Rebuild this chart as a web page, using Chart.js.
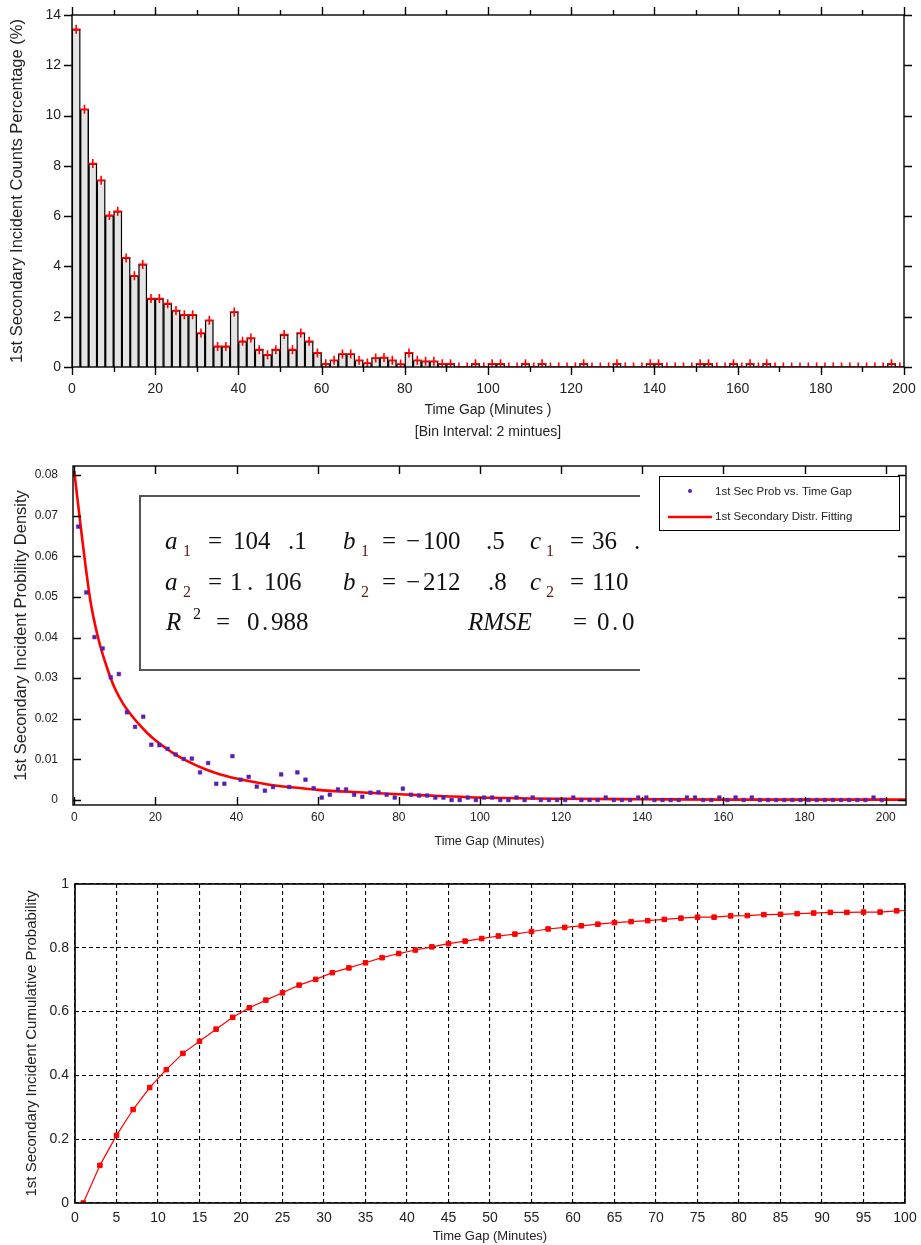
<!DOCTYPE html>
<html>
<head>
<meta charset="utf-8">
<script src="https://cdn.jsdelivr.net/npm/chart.js@4.4.1/dist/chart.umd.min.js"></script>
<style>
html,body{margin:0;padding:0;background:#fff;}
body{width:921px;height:1245px;position:relative;overflow:hidden;}
.c{position:absolute;left:0;width:921px;}
</style>
</head>
<body>
<div class="c" style="top:0;height:450px"><canvas id="c1"></canvas></div>
<div class="c" style="top:455px;height:405px"><canvas id="c2"></canvas></div>
<div class="c" style="top:862px;height:383px"><canvas id="c3"></canvas></div>
<script>
// ===================== DATA =====================
// Histogram: bin centres (minutes) of 2-minute bins, 0..200
const binCenters = [1,3,5,7,9,11,13,15,17,19,21,23,25,27,29,31,33,35,37,39,
  41,43,45,47,49,51,53,55,57,59,61,63,65,67,69,71,73,75,77,79,
  81,83,85,87,89,91,93,95,97,99,101,103,105,107,109,111,113,115,117,119,
  121,123,125,127,129,131,133,135,137,139,141,143,145,147,149,151,153,155,157,159,
  161,163,165,167,169,171,173,175,177,179,181,183,185,187,189,191,193,195,197,199];
// 1st secondary incident counts percentage (%) per bin
const histPct = [13.43,10.25,8.09,7.43,6.03,6.19,4.34,3.63,4.08,2.72,
  2.72,2.52,2.25,2.08,2.08,1.35,1.86,0.82,0.82,2.19,
  1.02,1.15,0.69,0.49,0.69,1.29,0.69,1.35,1.02,0.56,
  0.13,0.27,0.52,0.52,0.27,0.16,0.36,0.38,0.27,0.12,
  0.56,0.27,0.23,0.23,0.13,0.13,0,0,0.13,0,
  0.13,0.13,0,0,0.13,0,0.13,0,0,0,
  0,0.13,0,0,0,0.13,0,0,0,0.13,
  0.13,0,0,0,0,0.13,0.13,0,0,0.13,
  0,0.13,0,0.13,0,0,0,0,0,0,
  0,0,0,0,0,0,0,0,0.13,0];
const histXTicks = [0,10,20,30,40,50,60,70,80,90,100,110,120,130,140,150,160,170,180,190,200];
const histXLabels = ['0','','20','','40','','60','','80','','100','','120','','140','','160','','180','','200'];
const histYTicks = [0,2,4,6,8,10,12,14];

// Probability density (scatter) per bin centre
const densY = [0.0673,0.0511,0.0401,0.0373,0.0302,0.0310,0.0216,0.0180,0.0205,0.0136,
  0.0135,0.0126,0.0112,0.0101,0.0102,0.0068,0.0091,0.0040,0.0040,0.0108,
  0.0050,0.0057,0.0033,0.0023,0.0032,0.0063,0.0032,0.0068,0.0050,0.0029,
  0.0006,0.0013,0.0026,0.0026,0.0013,0.0008,0.0018,0.0019,0.0013,0.0006,
  0.0028,0.0013,0.0011,0.0011,0.0006,0.0006,0,0,0.0006,0,
  0.0006,0.0006,0,0,0.0006,0,0.0006,0,0,0,
  0,0.0006,0,0,0,0.0006,0,0,0,0.0006,
  0.0006,0,0,0,0,0.0006,0.0006,0,0,0.0006,
  0,0.0006,0,0.0006,0,0,0,0,0,0,
  0,0,0,0,0,0,0,0,0.0006,0];
// Fitted distribution curve
const fitX = [0,2,4,6,8,10,12,14,16,18,20,24,28,32,36,40,45,50,55,60,70,80,90,100,120,140,160,180,205];
const fitY = [0.081,0.064,0.049,0.0395,0.0328,0.0275,0.0238,0.0210,0.0186,0.0165,0.0147,0.0118,0.0095,0.0077,0.0063,0.0053,0.0043,0.0035,0.0030,0.0025,0.0019,0.0014,0.0010,0.0006,0.0003,0.0002,0.0001,0.0001,0.0001];
const densXTicks = [0,20,40,60,80,100,120,140,160,180,200];
const densYTicks = [0,0.01,0.02,0.03,0.04,0.05,0.06,0.07,0.08];
const densYLabels = ['0','0.01','0.02','0.03','0.04','0.05','0.06','0.07','0.08'];
const densLabels = ['1st Sec Prob vs. Time Gap','1st Secondary Distr. Fitting'];

// Cumulative probability
const cumX = [1,3,5,7,9,11,13,15,17,19,21,23,25,27,29,31,33,35,37,39,
  41,43,45,47,49,51,53,55,57,59,61,63,65,67,69,71,73,75,77,79,
  81,83,85,87,89,91,93,95,97,99,101];
const cumY = [0,0.118,0.212,0.293,0.362,0.418,0.469,0.507,0.545,0.582,
  0.612,0.636,0.659,0.683,0.701,0.722,0.737,0.753,0.769,0.782,
  0.793,0.803,0.813,0.821,0.829,0.837,0.843,0.851,0.859,0.864,
  0.869,0.874,0.879,0.882,0.885,0.889,0.893,0.896,0.896,0.900,
  0.901,0.904,0.905,0.907,0.909,0.911,0.911,0.912,0.912,0.916,0.918];
const cumXTicks = [0,5,10,15,20,25,30,35,40,45,50,55,60,65,70,75,80,85,90,95,100];
const cumYTicks = [0,0.2,0.4,0.6,0.8,1];
const cumYLabels = ['0','0.2','0.4','0.6','0.8','1'];

// ===================== HELPERS =====================
const SANS = "'Liberation Sans', Arial, sans-serif";
const SERIF = "'Liberation Serif', 'Times New Roman', serif";
const TXT = '#222';

const framePlugin = {
  id: 'frame',
  afterDatasetsDraw(chart, args, o) {
    const {ctx, chartArea: a} = chart;
    const x = chart.scales.x, y = chart.scales.y;
    ctx.save();
    ctx.strokeStyle = '#000';
    ctx.lineWidth = o.width || 1.3;
    ctx.setLineDash([]);
    ctx.strokeRect(a.left, a.top, a.right - a.left, a.bottom - a.top);
    const d = o.inward ? 1 : -1;
    ctx.beginPath();
    (o.xTicks || []).forEach((v, i) => {
      const px = Math.round(x.getPixelForValue(v)) + 0.5;
      const L = (o.xMajor && !o.xMajor[i]) ? o.minorLen : o.len;
      ctx.moveTo(px, a.bottom); ctx.lineTo(px, a.bottom - d * L);
      ctx.moveTo(px, a.top); ctx.lineTo(px, a.top + d * L);
    });
    (o.yTicks || []).forEach(v => {
      const py = Math.round(y.getPixelForValue(v)) + 0.5;
      ctx.moveTo(a.left, py); ctx.lineTo(a.left + d * o.len, py);
      ctx.moveTo(a.right, py); ctx.lineTo(a.right - d * o.len, py);
    });
    ctx.stroke();
    ctx.restore();
  }
};

function setTicks(values) {
  return (scale) => { scale.ticks = values.map(v => ({value: v})); };
}
function fixX(h) {
  return (s) => { s.height = h; s.paddingLeft = 0; s.paddingRight = 0; };
}
function fixY(w) {
  return (s) => { s.width = w; s.paddingTop = 0; s.paddingBottom = 0; };
}

// ===================== CHART 1: HISTOGRAM =====================
new Chart(document.getElementById('c1'), {
  type: 'bar',
  data: {
    datasets: [
      {
        type: 'line', label: 'Percentage marker',
        data: binCenters.map((x, i) => ({x: x, y: histPct[i]})),
        showLine: false, pointStyle: 'cross', pointRadius: 4.5,
        pointBorderColor: '#ff0000', pointBorderWidth: 1.6, borderColor: '#ff0000',
        order: 0
      },
      {
        type: 'bar', label: 'Counts Percentage',
        data: binCenters.map((x, i) => ({x: x, y: histPct[i]})),
        backgroundColor: '#e4e4e4', borderColor: '#000', borderWidth: 1.4,
        barPercentage: 1, categoryPercentage: 1, order: 1
      }
    ]
  },
  options: {
    responsive: true, maintainAspectRatio: false, animation: false,
    layout: {padding: {top: 15, right: 17, left: 0, bottom: 0}},
    plugins: {
      legend: {display: false}, tooltip: {enabled: false},
      frame: {inward: false, len: 8, minorLen: 5, width: 1.4,
        xTicks: histXTicks, xMajor: histXLabels.map(s => s !== ''), yTicks: histYTicks}
    },
    scales: {
      x: {
        type: 'linear', min: 0, max: 200, offset: false,
        grid: {display: false, drawTicks: false}, border: {display: false},
        afterBuildTicks: setTicks(histXTicks),
        afterFit: fixX(83),
        ticks: {autoSkip: false, maxRotation: 0, padding: 14, color: TXT,
          font: {family: SANS, size: 14},
          callback: (v, i) => histXLabels[i]},
        title: {display: true, text: ['Time Gap (Minutes )', '[Bin Interval: 2 mintues]'],
          color: TXT, font: {family: SANS, size: 14, lineHeight: 1.55}, padding: {top: 0, bottom: 7}}
      },
      y: {
        min: 0, max: 14,
        grid: {display: false, drawTicks: false}, border: {display: false},
        afterBuildTicks: setTicks(histYTicks),
        afterFit: fixY(72),
        ticks: {padding: 11, color: TXT, font: {family: SANS, size: 14}},
        title: {display: true, text: '1st Secondary Incident Counts Percentage (%)',
          color: TXT, font: {family: SANS, size: 16.5}, padding: {top: 8, bottom: 0}}
      }
    }
  },
  plugins: [framePlugin]
});

// ===================== CHART 2: DENSITY + FIT =====================
const annotPlugin = {
  id: 'annot',
  afterDraw(chart) {
    const ctx = chart.ctx;
    ctx.save();
    // parameter box (open on the right, clipped)
    ctx.strokeStyle = '#555';
    ctx.lineWidth = 2;
    ctx.beginPath();
    ctx.moveTo(640, 41); ctx.lineTo(140, 41); ctx.lineTo(140, 215); ctx.lineTo(640, 215);
    ctx.stroke();
    ctx.beginPath(); ctx.rect(0, 0, 641, 405); ctx.clip();
    ctx.textBaseline = 'alphabetic';
    ctx.textAlign = 'left';
    const up = '25px ' + SERIF;
    const it = 'italic 25px ' + SERIF;
    const sub = '16px ' + SERIF;
    const SUBC = '#5a1a1a';
    const put = (t, x, y, f, col) => { ctx.font = f; ctx.fillStyle = col || '#111'; ctx.fillText(t, x, y); };
    const r1 = 94, r2 = 135, r3 = 175;
    // row 1
    put('a', 165, r1, it); put('1', 183, r1 + 7, sub, SUBC);
    put('=', 208, r1, up); put('104', 233, r1, up); put('.1', 288, r1, up);
    put('b', 343, r1, it); put('1', 361, r1 + 7, sub, SUBC);
    put('=', 382, r1, up); put('\u2212', 406, r1, up); put('100', 423, r1, up); put('.5', 486, r1, up);
    put('c', 530, r1, it); put('1', 546, r1 + 7, sub, SUBC);
    put('=', 570, r1, up); put('36', 592, r1, up); put('.', 634, r1, up);
    // row 2
    put('a', 165, r2, it); put('2', 183, r2 + 7, sub, SUBC);
    put('=', 208, r2, up); put('1', 230, r2, up); put('.', 247, r2, up); put('106', 264, r2, up);
    put('b', 343, r2, it); put('2', 361, r2 + 7, sub, SUBC);
    put('=', 382, r2, up); put('\u2212', 406, r2, up); put('212', 423, r2, up); put('.8', 488, r2, up);
    put('c', 530, r2, it); put('2', 546, r2 + 7, sub, SUBC);
    put('=', 570, r2, up); put('110', 592, r2, up);
    // row 3
    put('R', 166, r3, it); put('2', 193, r3 - 11, sub);
    put('=', 216, r3, up); put('0', 247, r3, up); put('.', 262, r3, up); put('988', 271, r3, up);
    put('RMSE', 468, r3, it);
    put('=', 573, r3, up); put('0', 597, r3, up); put('.', 612, r3, up); put('0', 622, r3, up);
    ctx.restore();

    // legend
    ctx.save();
    ctx.fillStyle = '#fff';
    ctx.fillRect(659, 21, 240, 54);
    ctx.strokeStyle = '#000'; ctx.lineWidth = 1;
    ctx.strokeRect(659.5, 21.5, 240, 54);
    const ds = chart.data.datasets;
    ctx.font = '11.5px ' + SANS;
    ctx.fillStyle = TXT; ctx.textBaseline = 'middle'; ctx.textAlign = 'left';
    ctx.fillText(ds[0].label, 715, 37);
    ctx.fillText(ds[1].label, 715, 62);
    ctx.fillStyle = ds[0].backgroundColor;
    ctx.beginPath(); ctx.arc(690, 36, 2, 0, Math.PI * 2); ctx.fill();
    ctx.strokeStyle = ds[1].borderColor; ctx.lineWidth = 2.5;
    ctx.beginPath(); ctx.moveTo(668, 62); ctx.lineTo(712, 62); ctx.stroke();
    ctx.restore();
  }
};

new Chart(document.getElementById('c2'), {
  type: 'scatter',
  data: {
    datasets: [
      {
        label: densLabels[0],
        data: binCenters.map((x, i) => ({x: x, y: densY[i]})),
        pointStyle: 'rect', pointRadius: 2.6,
        backgroundColor: '#5a1fae', borderColor: '#5a1fae', borderWidth: 0.5,
        order: 0
      },
      {
        type: 'line', label: densLabels[1],
        data: fitX.map((x, i) => ({x: x, y: fitY[i]})),
        borderColor: '#ff0000', borderWidth: 2.6, pointRadius: 0,
        cubicInterpolationMode: 'monotone', fill: false, showLine: true,
        order: 1
      }
    ]
  },
  options: {
    responsive: true, maintainAspectRatio: false, animation: false,
    layout: {padding: {top: 11, right: 15, left: 0, bottom: 0}},
    plugins: {
      legend: {display: false}, tooltip: {enabled: false},
      frame: {inward: true, len: 8, width: 1.4, xTicks: densXTicks, yTicks: densYTicks}
    },
    scales: {
      x: {
        type: 'linear', min: -0.3, max: 205,
        grid: {display: false, drawTicks: false}, border: {display: false},
        afterBuildTicks: setTicks(densXTicks),
        afterFit: fixX(55),
        ticks: {autoSkip: false, maxRotation: 0, padding: 5, color: TXT,
          font: {family: SANS, size: 12}},
        title: {display: true, text: 'Time Gap (Minutes)', color: TXT,
          font: {family: SANS, size: 12.5}, padding: {top: 0, bottom: 11}}
      },
      y: {
        min: -0.00123, max: 0.08222,
        grid: {display: false, drawTicks: false}, border: {display: false},
        afterBuildTicks: setTicks(densYTicks),
        afterFit: fixY(73),
        ticks: {padding: 15, color: TXT, font: {family: SANS, size: 12},
          callback: (v, i) => densYLabels[i]},
        title: {display: true, text: '1st Secondary Incident Probility Density', color: TXT,
          font: {family: SANS, size: 16.5}, padding: {top: 12, bottom: 0}}
      }
    }
  },
  plugins: [framePlugin, annotPlugin]
});

// ===================== CHART 3: CUMULATIVE =====================
new Chart(document.getElementById('c3'), {
  type: 'line',
  data: {
    datasets: [{
      label: 'Cumulative Probability',
      data: cumX.map((x, i) => ({x: x, y: cumY[i]})),
      borderColor: '#ff0000', borderWidth: 1.2,
      pointStyle: 'rect', pointRadius: 3.2,
      pointBackgroundColor: '#ff0000', pointBorderColor: '#ff0000', pointBorderWidth: 1,
      tension: 0, fill: false
    }]
  },
  options: {
    responsive: true, maintainAspectRatio: false, animation: false,
    layout: {padding: {top: 22, right: 16, left: 0, bottom: 0}},
    plugins: {
      legend: {display: false}, tooltip: {enabled: false},
      frame: {inward: true, len: 0, width: 1.6, xTicks: [], yTicks: []}
    },
    scales: {
      x: {
        type: 'linear', min: 0, max: 100,
        grid: {display: true, color: '#000', lineWidth: 1.1, drawTicks: false},
        border: {display: false, dash: [4, 3]},
        afterBuildTicks: setTicks(cumXTicks),
        afterFit: fixX(42),
        ticks: {autoSkip: false, maxRotation: 0, padding: 7, color: TXT,
          font: {family: SANS, size: 14}},
        title: {display: true, text: 'Time Gap (Minutes)', color: TXT,
          font: {family: SANS, size: 13}, padding: {top: 0, bottom: 1}}
      },
      y: {
        min: 0, max: 1,
        grid: {display: true, color: '#000', lineWidth: 1.1, drawTicks: false},
        border: {display: false, dash: [4, 3]},
        afterBuildTicks: setTicks(cumYTicks),
        afterFit: fixY(75),
        ticks: {padding: 6, color: TXT, font: {family: SANS, size: 14},
          callback: (v, i) => cumYLabels[i]},
        title: {display: true, text: '1st Secondary Incident Cumulative Probability', color: TXT,
          font: {family: SANS, size: 15}, padding: {top: 23, bottom: 0}}
      }
    }
  },
  plugins: [framePlugin]
});
</script>
</body>
</html>
